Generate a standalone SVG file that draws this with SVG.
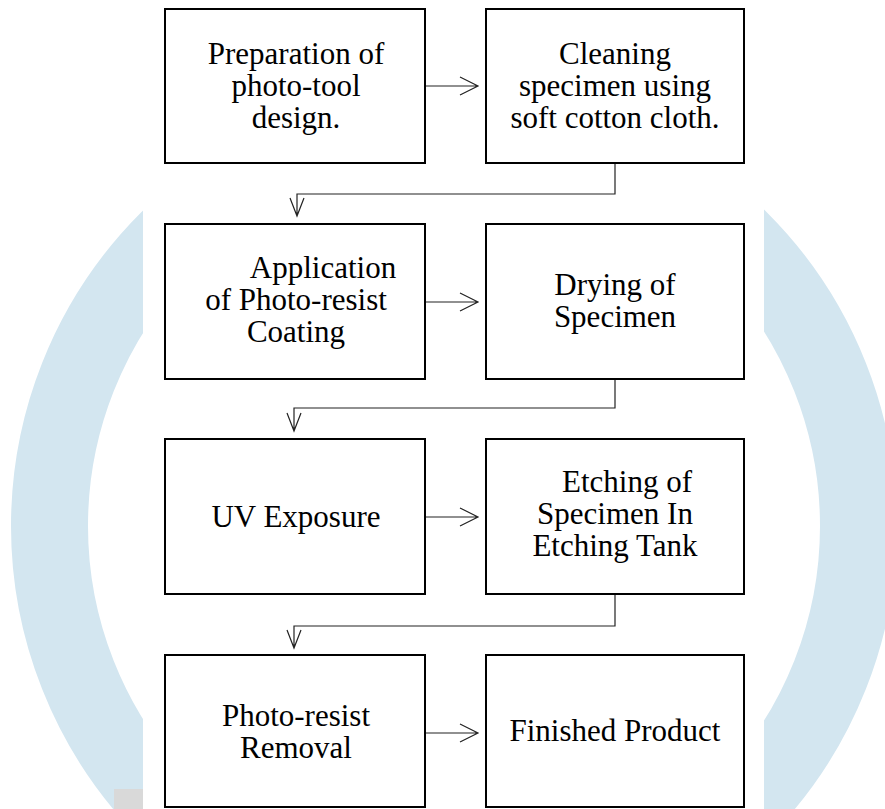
<svg xmlns="http://www.w3.org/2000/svg" width="885" height="809" viewBox="0 0 885 809">
<style>
.box{fill:#fff;stroke:#000;stroke-width:2}
.t{font-family:"Liberation Serif","Times New Roman",serif;font-size:31px;fill:#000;text-anchor:middle}
.c{fill:none;stroke:#222;stroke-width:1.2}
</style>
<rect x="0" y="0" width="885" height="809" fill="#fff"/>
<circle cx="454" cy="526" r="404.5" fill="none" stroke="#d3e6f0" stroke-width="77"/>
<rect x="114" y="789" width="29" height="20" fill="#d9d9d9"/>
<rect x="143" y="0" width="621" height="809" fill="#fff"/>
<g id="n1"><rect class="box" x="165" y="9" width="260" height="154"/>
<text class="t" x="296" y="64">Preparation of</text><text class="t" x="296" y="96">photo-tool</text><text class="t" x="296" y="128">design.</text></g>
<g id="n2"><rect class="box" x="486" y="9" width="258" height="154"/>
<text class="t" x="615" y="64">Cleaning</text><text class="t" x="615" y="96">specimen using</text><text class="t" x="615" y="128">soft cotton cloth.</text></g>
<g id="n3"><rect class="box" x="165" y="224" width="260" height="155"/>
<text class="t" x="323" y="278">Application</text><text class="t" x="296" y="310">of Photo-resist</text><text class="t" x="296" y="342">Coating</text></g>
<g id="n4"><rect class="box" x="486" y="224" width="258" height="155"/>
<text class="t" x="615" y="295">Drying of</text><text class="t" x="615" y="327">Specimen</text></g>
<g id="n5"><rect class="box" x="165" y="439" width="260" height="155"/>
<text class="t" x="296" y="527">UV Exposure</text></g>
<g id="n6"><rect class="box" x="486" y="439" width="258" height="155"/>
<text class="t" x="627" y="492">Etching of</text><text class="t" x="615" y="524">Specimen In</text><text class="t" x="615" y="556">Etching Tank</text></g>
<g id="n7"><rect class="box" x="165" y="655" width="260" height="152"/>
<text class="t" x="296" y="726">Photo-resist</text><text class="t" x="296" y="758">Removal</text></g>
<g id="n8"><rect class="box" x="486" y="655" width="258" height="152"/>
<text class="t" x="615" y="741">Finished Product</text></g>
<g id="connectors">
<path class="c" d="M426 86H478M460 77L478 86L460 95"/>
<path class="c" d="M426 302H478M460 293L478 302L460 311"/>
<path class="c" d="M426 517H478M460 508L478 517L460 526"/>
<path class="c" d="M426 733H478M460 724L478 733L460 742"/>
<path class="c" d="M615 164V194H297V216M290 198L297 216L304 198"/>
<path class="c" d="M615 380V408H294V431M287 413L294 431L301 413"/>
<path class="c" d="M615 595V626H294V648M287 630L294 648L301 630"/>
</g>
</svg>
